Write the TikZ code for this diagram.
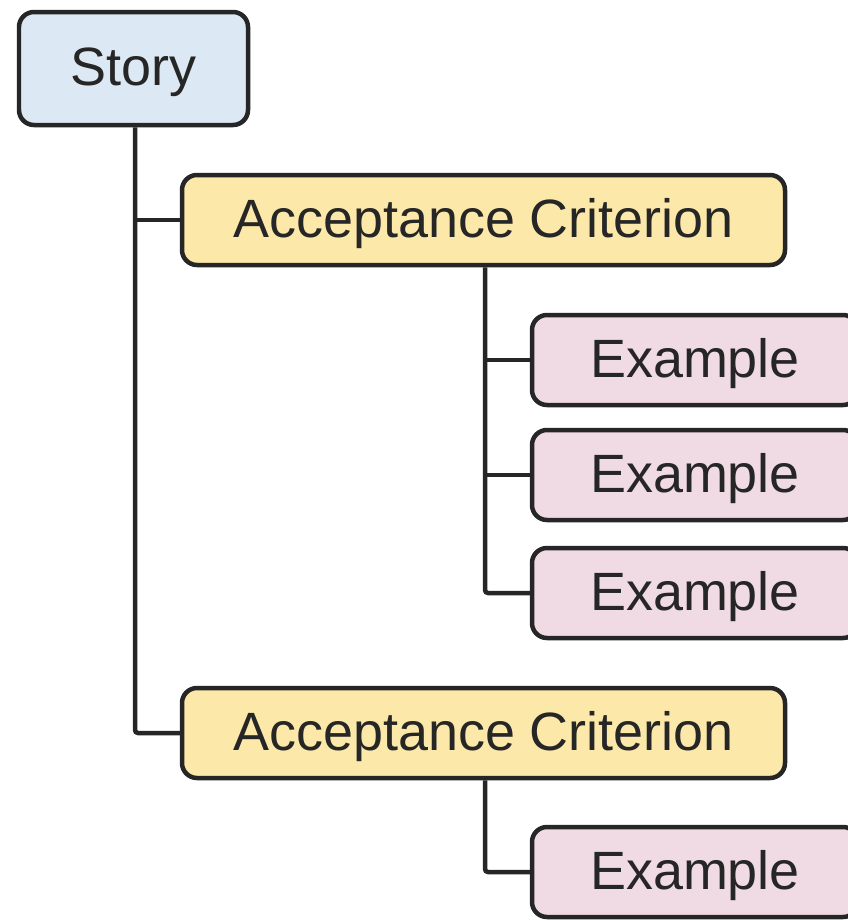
\documentclass[tikz,border=0pt]{standalone}
\usepackage{fontspec}
\setmainfont{Liberation Sans}
\definecolor{storyfill}{HTML}{DCE8F3}
\definecolor{critfill}{HTML}{FCE8A8}
\definecolor{exfill}{HTML}{F0DAE3}
\definecolor{ink}{HTML}{262626}
\begin{document}
\begin{tikzpicture}[x=0.02cm,y=-0.02cm,
  box/.style={draw=ink, line width=0.09cm, rounded corners=0.3cm, inner sep=0pt,
    text=ink, font=\fontsize{30.7}{36}\selectfont,
    text height=0.84cm, text depth=0.16cm, align=center},
  storybox/.style={box, fill=storyfill, minimum width=229*0.02cm, minimum height=113*0.02cm},
  critbox/.style={box, fill=critfill, minimum width=603*0.02cm, minimum height=90*0.02cm},
  exbox/.style={box, fill=exfill, minimum width=326*0.02cm, minimum height=90*0.02cm},
  link/.style={draw=ink, line width=0.09cm, rounded corners=0.06cm}]
\useasboundingbox (0,0) rectangle (848,920);
\fill[white] (0,0) rectangle (848,920);

% x positions of the vertical trunks
\coordinate (storytrunk) at (135,127);
\coordinate (ctrunkA) at (485,267);
\coordinate (ctrunkB) at (485,779);

% the boxes
\node[storybox] (story) at (133.5,68.5) {Story};
\node[critbox] (critA) at (483.5,220) {Acceptance Criterion};
\node[critbox] (critB) at (483.5,733) {Acceptance Criterion};
\node[exbox] (exA1) at (695,360) {Example};
\node[exbox] (exA2) at (695,475) {Example};
\node[exbox] (exA3) at (695,593) {Example};
\node[exbox] (exB1) at (695,872) {Example};

% tree connectors
\path[link] (story.south -| storytrunk) |- (critB.west);
\path[link] (storytrunk |- critA.west) -- (critA.west);
\path[link] (critA.south -| ctrunkA) |- (exA3.west);
\path[link] (ctrunkA |- exA1.west) -- (exA1.west);
\path[link] (ctrunkA |- exA2.west) -- (exA2.west);
\path[link] (critB.south -| ctrunkB) |- (exB1.west);
\end{tikzpicture}
\end{document}
